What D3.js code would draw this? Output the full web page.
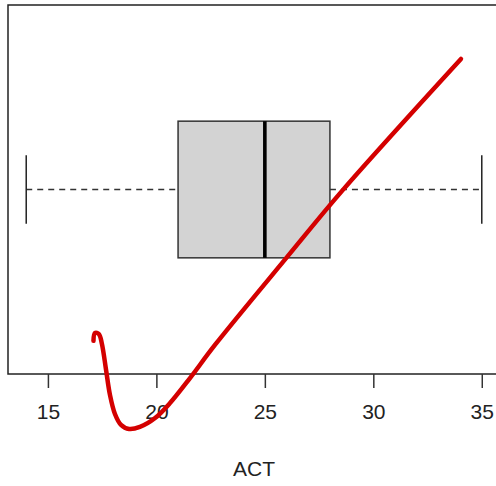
<!DOCTYPE html>
<html>
<head>
<meta charset="utf-8">
<script src="https://cdn.jsdelivr.net/npm/d3@7"></script>
<style>
  body { margin: 0; background: #fff; }
  text { font-family: "Liberation Sans", Arial, sans-serif; fill: #222; }
</style>
</head>
<body>
<script>
// ACT summary (min, q1, median, q3, max)
var actStats = [14, 21, 25, 28, 35];
var tickValues = [15, 20, 25, 30, 35];
var axisLabel = "ACT";

// hand-drawn red annotation, in ACT units (x) and box-position units (y)
var curveX = [17.10, 17.17, 17.35, 17.49, 17.68, 17.86, 18.09, 18.37, 18.74, 19.24, 19.94, 20.63, 21.55, 22.70, 26.02, 28.56, 34.04];
var curveY = [0.557, 0.580, 0.577, 0.548, 0.472, 0.399, 0.343, 0.311, 0.299, 0.305, 0.331, 0.375, 0.448, 0.545, 0.802, 0.996, 1.382];

var svgWidth = 496;
var svgHeight = 486;

// plot region (right edge runs off the window, as in the reference)
var plot = { left: 8, top: 5, right: 500, bottom: 374 };

var svg = d3.select("body")
  .append("svg")
  .attr("width", svgWidth)
  .attr("height", svgHeight);

// R-style 4% padding around the data range
var xPad = (actStats[4] - actStats[0]) * 0.04;
var xScale = d3.scaleLinear()
  .domain([actStats[0] - xPad, actStats[4] + xPad])
  .range([plot.left, plot.right]);

var yScale = d3.scaleLinear()
  .domain([0.46, 1.54])
  .range([plot.bottom, plot.top]);

var boxHalf = 0.2;
var capHalf = 0.1;

// whiskers (dashed)
[[actStats[0], actStats[1]], [actStats[3], actStats[4]]].forEach(function(w) {
  svg.append("line")
    .attr("x1", xScale(w[0]))
    .attr("x2", xScale(w[1]))
    .attr("y1", yScale(1))
    .attr("y2", yScale(1))
    .attr("stroke", "#333")
    .attr("stroke-width", 1.3)
    .attr("stroke-dasharray", "6,5");
});

// whisker caps
[actStats[0], actStats[4]].forEach(function(v) {
  svg.append("line")
    .attr("x1", xScale(v))
    .attr("x2", xScale(v))
    .attr("y1", yScale(1 - capHalf))
    .attr("y2", yScale(1 + capHalf))
    .attr("stroke", "#222")
    .attr("stroke-width", 1.5);
});

// box
svg.append("rect")
  .attr("x", xScale(actStats[1]))
  .attr("y", yScale(1 + boxHalf))
  .attr("width", xScale(actStats[3]) - xScale(actStats[1]))
  .attr("height", yScale(1 - boxHalf) - yScale(1 + boxHalf))
  .attr("fill", "#d3d3d3")
  .attr("stroke", "#333")
  .attr("stroke-width", 1.5);

// median
svg.append("line")
  .attr("x1", xScale(actStats[2]))
  .attr("x2", xScale(actStats[2]))
  .attr("y1", yScale(1 - boxHalf))
  .attr("y2", yScale(1 + boxHalf))
  .attr("stroke", "#000")
  .attr("stroke-width", 3.6);

// frame
svg.append("rect")
  .attr("x", plot.left)
  .attr("y", plot.top)
  .attr("width", plot.right - plot.left)
  .attr("height", plot.bottom - plot.top)
  .attr("fill", "none")
  .attr("stroke", "#222")
  .attr("stroke-width", 1.5);

// bottom axis
var bottomAxis = d3.axisBottom(xScale)
  .tickValues(tickValues)
  .tickSize(14)
  .tickPadding(16)
  .tickFormat(d3.format("d"));

var axisG = svg.append("g")
  .attr("transform", `translate(0, ${plot.bottom})`)
  .call(bottomAxis);

axisG.select(".domain").remove();
axisG.selectAll(".tick line")
  .attr("stroke", "#333")
  .attr("stroke-width", 1.5);
axisG.selectAll(".tick text")
  .attr("font-family", "Liberation Sans, Arial, sans-serif")
  .attr("font-size", 21)
  .attr("fill", "#222");

svg.append("text")
  .attr("x", (plot.left + plot.right) / 2)
  .attr("y", 476)
  .attr("text-anchor", "middle")
  .attr("font-size", 21)
  .text(axisLabel);

// red annotation
var curvePts = curveX.map(function(x, i) { return [x, curveY[i]]; });
var line = d3.line()
  .x(d => xScale(d[0]))
  .y(d => yScale(d[1]))
  .curve(d3.curveCatmullRom.alpha(0.5));

svg.append("path")
  .datum(curvePts)
  .attr("d", line)
  .attr("fill", "none")
  .attr("stroke", "#d40000")
  .attr("stroke-width", 4.5)
  .attr("stroke-linecap", "round")
  .attr("stroke-linejoin", "round");
</script>
</body>
</html>
